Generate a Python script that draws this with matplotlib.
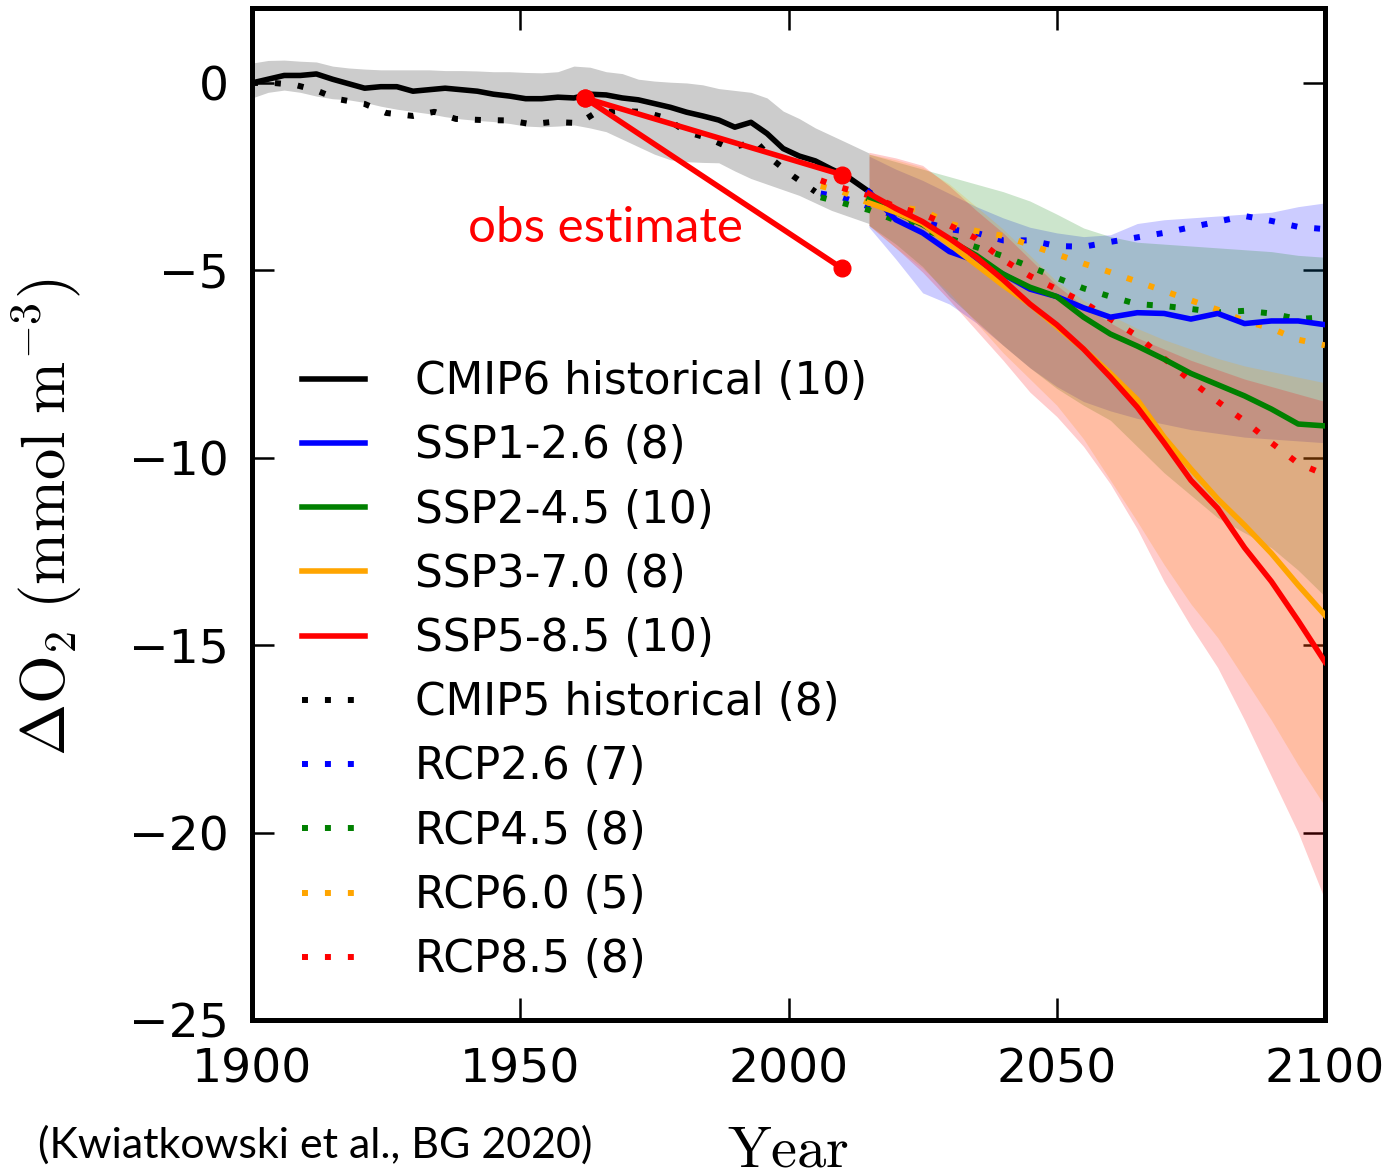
import numpy as np
import matplotlib
matplotlib.use('Agg')
import matplotlib.pyplot as plt
from matplotlib.lines import Line2D

plt.rcParams['mathtext.fontset'] = 'cm'
plt.rcParams['font.family'] = ['DejaVu Sans']

# CMIP6 historical multi-model mean and spread
hist6_years = [1900, 1903, 1906, 1909, 1912, 1915, 1918, 1921, 1924, 1927, 1930, 1933, 1936,
               1939, 1942, 1945, 1948, 1951, 1954, 1957, 1960, 1963, 1966, 1969, 1972, 1975,
               1978, 1981, 1984, 1987, 1990, 1993, 1996, 1999, 2002, 2005, 2008, 2011, 2015]
hist6_mean = [0.0, 0.1, 0.2, 0.2, 0.24, 0.1, -0.02, -0.14, -0.1, -0.1, -0.22, -0.18, -0.14,
              -0.18, -0.22, -0.3, -0.35, -0.42, -0.42, -0.38, -0.4, -0.3, -0.32, -0.4, -0.45, -0.55,
              -0.65, -0.78, -0.88, -0.99, -1.18, -1.05, -1.35, -1.75, -1.95, -2.08, -2.3, -2.5, -2.9]
hist6_upper = [0.53, 0.6, 0.61, 0.58, 0.56, 0.45, 0.4, 0.37, 0.35, 0.35, 0.35, 0.35, 0.33,
               0.33, 0.32, 0.3, 0.3, 0.28, 0.27, 0.3, 0.45, 0.42, 0.3, 0.25, 0.1, 0.05,
               0.02, 0.0, -0.05, -0.15, -0.2, -0.25, -0.4, -0.75, -0.95, -1.2, -1.4, -1.6, -1.87]
hist6_lower = [-0.4, -0.25, -0.19, -0.25, -0.35, -0.42, -0.45, -0.52, -0.62, -0.7, -0.76, -0.82, -0.9,
               -0.96, -1.0, -1.03, -1.08, -1.15, -1.17, -1.15, -1.12, -1.2, -1.3, -1.5, -1.7, -1.9,
               -2.05, -2.1, -2.12, -2.13, -2.35, -2.55, -2.7, -2.85, -3.0, -3.2, -3.4, -3.55, -3.75]

# CMIP5 historical mean
hist5_years = [1900, 1904, 1908, 1912, 1916, 1921, 1925, 1930, 1934, 1938, 1943, 1948, 1952,
               1956, 1961, 1964, 1968, 1973, 1977, 1981, 1985, 1989, 1994, 1997, 2001, 2005]
hist5_mean = [0.0, 0.0, -0.05, -0.2, -0.43, -0.56, -0.8, -0.88, -0.77, -0.96, -0.99, -1.0, -1.1,
              -1.04, -1.07, -0.8, -0.75, -0.77, -0.93, -1.31, -1.47, -1.73, -1.57, -2.05, -2.5, -2.9]

# SSP scenarios (CMIP6)
ssp_years = [2015, 2020, 2025, 2030, 2035, 2040, 2045, 2050, 2055, 2060, 2065, 2070,
             2075, 2080, 2085, 2090, 2095, 2100]
ssp126 = [-2.9, -3.65, -4.0, -4.5, -4.75, -5.1, -5.5, -5.7, -6.0, -6.25, -6.13, -6.15,
          -6.3, -6.15, -6.42, -6.35, -6.35, -6.45]
ssp245 = [-3.1, -3.45, -3.78, -4.2, -4.6, -5.1, -5.45, -5.7, -6.25, -6.7, -7.02, -7.37,
          -7.75, -8.05, -8.35, -8.7, -9.1, -9.15]
ssp370 = [-3.2, -3.45, -3.75, -4.3, -4.85, -5.4, -5.9, -6.5, -7.1, -7.75, -8.45, -9.45,
          -10.3, -11.1, -11.8, -12.55, -13.4, -14.2]
ssp585 = [-2.95, -3.35, -3.7, -4.15, -4.65, -5.25, -5.9, -6.45, -7.1, -7.85, -8.65, -9.6,
          -10.6, -11.35, -12.4, -13.3, -14.35, -15.45]

ssp126_hi = [-1.95, -2.3, -2.6, -2.95, -3.3, -3.6, -3.85, -4.0, -4.1, -4.05, -3.75, -3.65,
             -3.6, -3.55, -3.5, -3.45, -3.3, -3.2]
ssp126_lo = [-3.85, -4.7, -5.6, -5.9, -6.4, -7.0, -7.6, -8.1, -8.5, -8.75, -8.95, -9.1,
             -9.25, -9.35, -9.45, -9.5, -9.55, -9.6]
ssp245_hi = [-1.9, -2.1, -2.3, -2.5, -2.7, -2.9, -3.15, -3.5, -3.87, -4.1, -4.25, -4.3,
             -4.35, -4.4, -4.45, -4.5, -4.6, -4.65]
ssp245_lo = [-3.8, -4.3, -4.9, -5.7, -6.35, -7.0, -7.6, -8.15, -8.6, -9.0, -9.7, -10.4,
             -11.0, -11.6, -12.0, -12.4, -13.0, -13.7]
ssp370_hi = [-1.9, -2.05, -2.25, -2.7, -3.3, -3.9, -4.6, -5.3, -5.8, -6.2, -6.55, -6.85,
             -7.1, -7.35, -7.55, -7.7, -7.85, -8.0]
ssp370_lo = [-3.8, -4.4, -4.95, -5.6, -6.4, -7.2, -7.9, -8.6, -9.5, -10.6, -11.7, -12.85,
             -13.9, -14.8, -15.9, -17.0, -18.2, -19.3]
ssp585_hi = [-1.85, -2.0, -2.2, -2.75, -3.4, -4.0, -4.7, -5.4, -5.95, -6.4, -6.8, -7.1,
             -7.4, -7.65, -7.9, -8.1, -8.3, -8.5]
ssp585_lo = [-3.8, -4.4, -5.05, -5.8, -6.6, -7.4, -8.25, -8.9, -9.7, -10.7, -11.9, -13.3,
             -14.5, -15.6, -17.0, -18.5, -20.0, -21.8]

# RCP scenarios (CMIP5)
rcp_years = [2006, 2010, 2015, 2020, 2025, 2030, 2035, 2040, 2045, 2050, 2055, 2060,
             2065, 2070, 2075, 2080, 2085, 2090, 2095, 2100]
rcp26 = [-2.95, -3.05, -3.3, -3.55, -3.7, -3.9, -4.0, -4.2, -4.2, -4.35, -4.37, -4.24,
         -4.12, -4.0, -3.85, -3.7, -3.55, -3.68, -3.84, -3.9]
rcp45 = [-3.05, -3.2, -3.39, -3.67, -3.9, -4.15, -4.38, -4.62, -4.9, -5.2, -5.48, -5.7,
         -5.9, -5.95, -6.03, -6.12, -6.08, -6.15, -6.3, -6.25]
rcp60 = [-2.75, -2.9, -3.2, -3.3, -3.4, -3.75, -3.95, -4.08, -4.32, -4.57, -4.82, -5.05,
         -5.3, -5.55, -5.8, -6.05, -6.35, -6.55, -6.85, -7.0]
rcp85 = [-2.6, -2.8, -3.0, -3.3, -3.5, -3.8, -4.15, -4.72, -5.15, -5.5, -5.85, -6.3,
         -6.75, -7.35, -7.95, -8.5, -9.02, -9.6, -10.15, -10.45]

# observational estimate
obs_years = [1962, 2010]
obs_high = [-0.4, -2.45]
obs_low = [-0.4, -4.95]

ssp_names = ['SSP1-2.6 (8)', 'SSP2-4.5 (10)', 'SSP3-7.0 (8)', 'SSP5-8.5 (10)']
rcp_names = ['RCP2.6 (7)', 'RCP4.5 (8)', 'RCP6.0 (5)', 'RCP8.5 (8)']
colors = ['blue', 'green', 'orange', 'red']

fig = plt.figure(figsize=(13.93, 11.76), dpi=100)
ax = fig.add_axes([0.1809, 0.1327, 0.7703, 0.8605])

dots = (0, (1, 2.84))
lw = 4.0
dlw = 4.3

ax.fill_between(hist6_years, hist6_lower, hist6_upper, color='0.8', lw=0, zorder=1)
ax.plot(hist6_years, hist6_mean, color='k', lw=lw, zorder=4)
ax.plot(hist5_years, hist5_mean, color='k', lw=dlw, ls=dots, zorder=4)

ssp_mean = [ssp126, ssp245, ssp370, ssp585]
ssp_hi = [ssp126_hi, ssp245_hi, ssp370_hi, ssp585_hi]
ssp_lo = [ssp126_lo, ssp245_lo, ssp370_lo, ssp585_lo]
rcp_mean = [rcp26, rcp45, rcp60, rcp85]

for lo, hi, c in zip(ssp_lo, ssp_hi, colors):
    ax.fill_between(ssp_years, lo, hi, color=c, alpha=0.2, lw=0, zorder=2)
for m, c in zip(rcp_mean, colors):
    ax.plot(rcp_years, m, color=c, lw=dlw, ls=dots, zorder=5)
for m, c in zip(ssp_mean, colors):
    ax.plot(ssp_years, m, color=c, lw=lw, zorder=6)

ax.plot(obs_years, obs_high, color='red', lw=4, marker='o', ms=12, zorder=8)
ax.plot(obs_years, obs_low, color='red', lw=4, marker='o', ms=12, zorder=8)
ax.text(1940.3, -3.87, 'obs estimate', color='red', fontsize=35.5, family=['Lato', 'DejaVu Sans'],
        va='center', ha='left', zorder=9)

ax.set_xlim(1900, 2100)
ax.set_ylim(-25, 2)
ax.set_xticks([1900, 1950, 2000, 2050, 2100])
ax.set_yticks([0, -5, -10, -15, -20, -25])
ax.tick_params(axis='both', direction='in', length=16, width=1.8, top=True, right=True, labelsize=34)
ax.tick_params(axis='x', pad=20)
ax.tick_params(axis='y', pad=17)
for spi in ['top', 'bottom', 'left', 'right']:
    ax.spines[spi].set_linewidth(3.6)

ax.set_xlabel(r'$\mathrm{Year}$', fontsize=42, va='top')
ax.xaxis.set_label_coords(0.5, -0.1)
ax.set_ylabel(r'$\Delta\mathrm{O_2}\ (\mathrm{mmol\ m^{-3}})$', fontsize=45)
ax.yaxis.set_label_coords(-0.156, 0.497)

handles = [Line2D([], [], color='k', lw=lw)]
handles += [Line2D([], [], color=c, lw=lw) for c in colors]
handles += [Line2D([], [], color='k', lw=dlw, ls=dots)]
handles += [Line2D([], [], color=c, lw=dlw, ls=dots) for c in colors]
labels = ['CMIP6 historical (10)'] + ssp_names + ['CMIP5 historical (8)'] + rcp_names
ax.legend(handles, labels, loc='upper left', bbox_to_anchor=(0.0466, 0.652), frameon=False,
          fontsize=31.5, handlelength=1.45, handletextpad=1.13, labelspacing=0.485,
          borderaxespad=0, borderpad=0)

fig.text(38 / 1393, 1 - 1145 / 1176, '(Kwiatkowski et al., BG 2020)', fontsize=31,
         family=['Lato', 'DejaVu Sans'], va='center', ha='left')

fig.savefig('out.png', dpi=100)
